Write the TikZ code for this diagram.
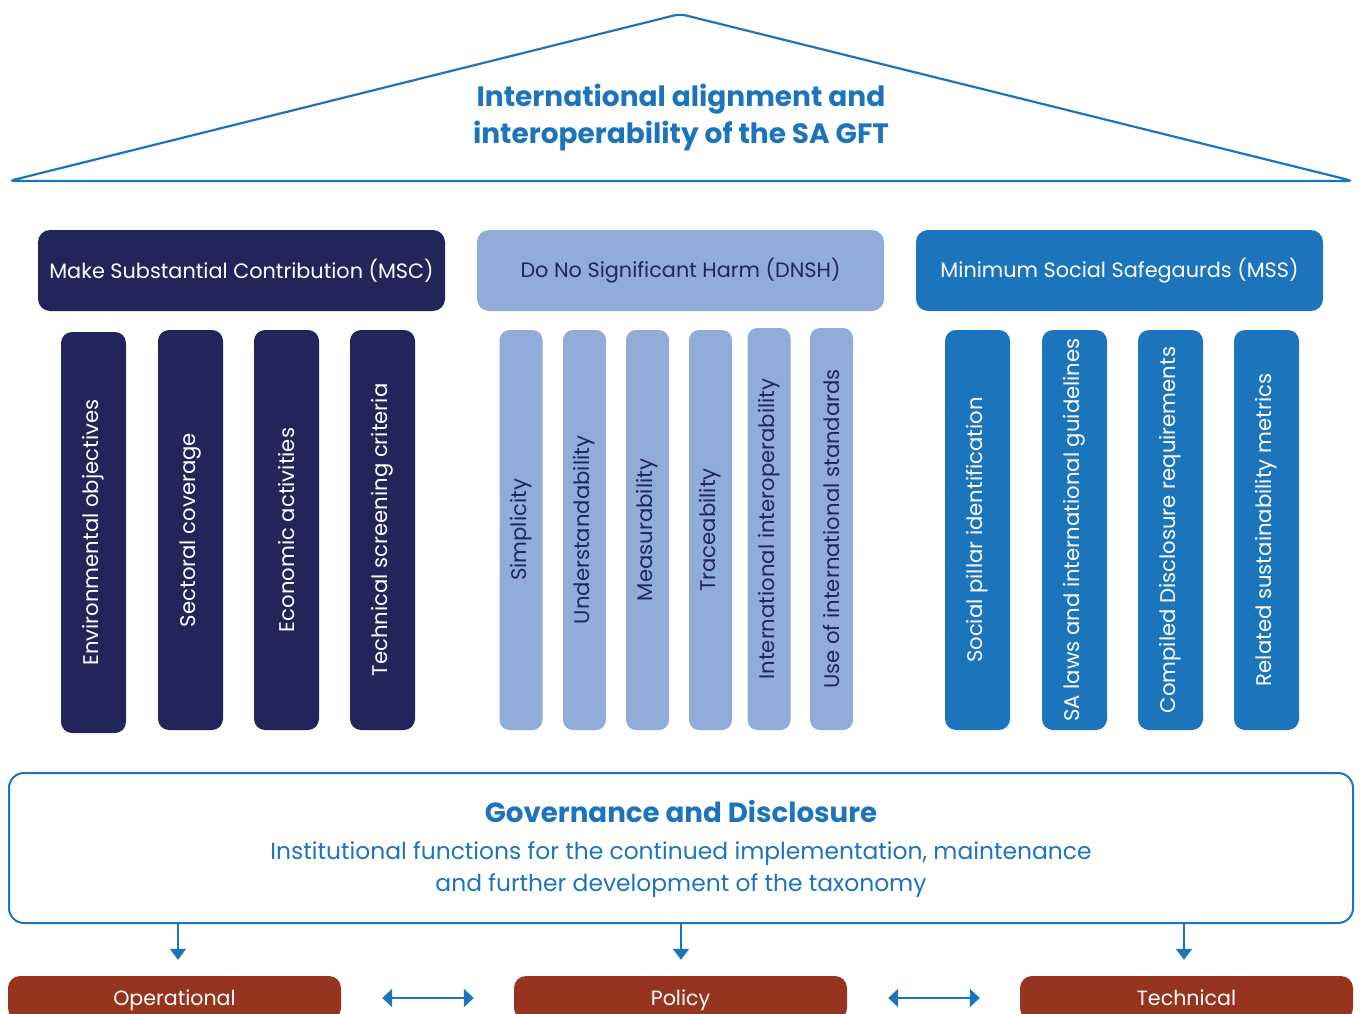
\documentclass[tikz,border=0pt]{standalone}
\usepackage{fontspec}
\setmainfont{Poppins}
\usetikzlibrary{arrows.meta}
\definecolor{cblue}{HTML}{1C75BC}
\definecolor{cnavy}{HTML}{22255A}
\definecolor{clight}{HTML}{8FADD8}
\definecolor{cbrown}{HTML}{96341F}
\begin{document}
\begin{tikzpicture}[x=1pt,y=-1pt,
  header/.style={rounded corners=12pt, minimum width=407pt, minimum height=81pt, inner sep=0pt, font=\fontsize{20.8}{24}\selectfont},
  pillar/.style={rounded corners=11pt, rotate=90, minimum width=400pt, minimum height=65pt, inner sep=0pt, font=\fontsize{21.2}{24}\selectfont},
  thinpillar/.style={pillar, minimum height=43pt, rounded corners=10pt},
  bottombox/.style={fill=cbrown, rounded corners=12pt, minimum width=333pt, minimum height=44pt, inner sep=0pt, text=white, text height=16pt, text depth=2pt, font=\fontsize{20.6}{24}\selectfont},
  darr/.style={cblue, line width=2pt, -{Triangle[width=16pt,length=11pt]}},
  dbl/.style={cblue, line width=2pt, {Triangle[width=18pt,length=10pt]}-{Triangle[width=18pt,length=10pt]}}
]
\useasboundingbox (0,0) rectangle (1361,1014);
\clip (0,0) rectangle (1361,1014);

% roof
\draw[cblue, line width=2.2pt, rounded corners=6pt] (9,181) -- (680,14) -- (1353,181) -- cycle;
\node[text=cblue, align=center, font=\bfseries\fontsize{28}{37}\selectfont] (title) at (681,117.5) {International alignment and\\interoperability of the SA GFT};

% headers
\node[header, fill=cnavy, text=white] (msc) at (241.5,270.5) {Make Substantial Contribution (MSC)};
\node[header, fill=clight, text=cnavy] (dnsh) at (680.5,270.5) {Do No Significant Harm (DNSH)};
\node[header, fill=cblue, text=white] (mss) at (1119.5,270.5) {Minimum Social Safegaurds (MSS)};

% MSC pillars
\node[pillar, fill=cnavy, text=white, minimum width=401pt] (m1) at (93.5,532.5) {Environmental objectives};
\node[pillar, fill=cnavy, text=white] (m2) at (190.5,530) {Sectoral coverage};
\node[pillar, fill=cnavy, text=white] (m3) at (286.5,530) {Economic activities};
\node[pillar, fill=cnavy, text=white] (m4) at (382.5,530) {Technical screening criteria};

% DNSH pillars
\node[thinpillar, fill=clight, text=cnavy] (d1) at (521,530) {Simplicity};
\node[thinpillar, fill=clight, text=cnavy] (d2) at (584.5,530) {Understandability};
\node[thinpillar, fill=clight, text=cnavy] (d3) at (647.5,530) {Measurability};
\node[thinpillar, fill=clight, text=cnavy] (d4) at (710.5,530) {Traceability};
\node[thinpillar, fill=clight, text=cnavy, minimum width=402pt] (d5) at (769,529) {International interoperability};
\node[thinpillar, fill=clight, text=cnavy, minimum width=402pt] (d6) at (831.5,529) {Use of international standards};

% MSS pillars
\node[pillar, fill=cblue, text=white] (s1) at (977.5,530) {Social pillar identification};
\node[pillar, fill=cblue, text=white] (s2) at (1074.5,530) {SA laws and international guidelines};
\node[pillar, fill=cblue, text=white] (s3) at (1170.5,530) {Compiled Disclosure requirements};
\node[pillar, fill=cblue, text=white] (s4) at (1266.5,530) {Related sustainability metrics};

% governance
\node[draw=cblue, line width=2pt, rounded corners=15pt, minimum width=1344pt, minimum height=150pt, inner sep=0pt] (gov) at (681,848) {};
\node[text=cblue, font=\bfseries\fontsize{27.7}{34}\selectfont] (govt) at (681,811.5) {Governance and Disclosure};
\node[text=cblue, align=center, font=\fontsize{23.4}{32}\selectfont] (govs) at (681,870) {Institutional functions for the continued implementation, maintenance\\and further development of the taxonomy};

% bottom boxes
\node[bottombox] (op) at (174.5,998) {Operational};
\node[bottombox] (pol) at (680.5,998) {Policy};
\node[bottombox] (tech) at (1186.5,998) {Technical};

\coordinate (a1) at (178,0);
\coordinate (a2) at (681,0);
\coordinate (a3) at (1184,0);
\draw[darr, shorten >=16pt] (gov.south -| a1) -- (op.north -| a1);
\draw[darr, shorten >=16pt] (gov.south -| a2) -- (pol.north -| a2);
\draw[darr, shorten >=16pt] (gov.south -| a3) -- (tech.north -| a3);

\draw[dbl, shorten <=41pt, shorten >=40pt] (op.east) -- (pol.west);
\draw[dbl, shorten <=41pt, shorten >=40pt] (pol.east) -- (tech.west);
\end{tikzpicture}
\end{document}
